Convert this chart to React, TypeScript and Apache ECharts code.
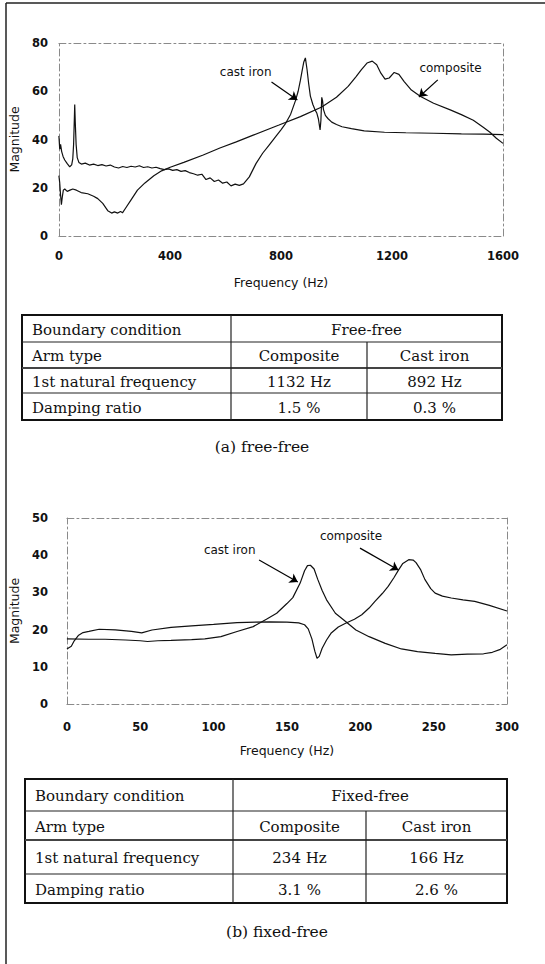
import React, { useEffect, useRef } from "react";
import * as echarts from "echarts";

// ---------- (a) free-free : frequency response ----------
const FREE_CAST_FREQ = [0, 3, 6, 10, 15, 21, 30, 39, 46, 50, 53, 56, 57, 59, 62, 66, 72, 81, 95, 110, 125, 140, 155, 170, 185, 200, 215, 230, 245, 260, 275, 290, 305, 320, 335, 350, 365, 380, 395, 410, 425, 440, 455, 470, 485, 500, 515, 530, 545, 560, 575, 590, 605, 620, 635, 650, 665, 686, 710, 734, 758, 781, 800, 817, 835, 852, 862, 870, 877, 882, 888, 894, 900, 906, 915, 922, 929, 935, 941, 944, 947, 950, 953, 960, 970, 983, 1000, 1020, 1054, 1100, 1173, 1250, 1351, 1450, 1530, 1600];
const FREE_CAST_MAG = [41.5, 36, 38, 35, 33, 31.5, 30, 28.7, 29.5, 32, 38, 50, 54.5, 47, 38, 32.5, 30.5, 29.8, 30.2, 29.4, 29.8, 29.2, 29.6, 29, 29.4, 28.6, 28.2, 28.8, 28.4, 28.9, 28.6, 29.1, 28.4, 28.7, 28.2, 28.5, 27.9, 27.5, 27.8, 27.2, 27.5, 26.8, 27.1, 26.3, 25.8, 25.2, 25.6, 23.4, 24.1, 22.6, 23.2, 21.9, 22.4, 20.8, 21.5, 21.0, 21.6, 24.5, 30, 34.3, 37.8, 41.2, 44, 46.7, 50.5, 56, 60, 64.5, 69, 72, 73.8, 69, 63, 58, 54.5, 52.5, 51, 48.5, 44, 48, 57.5, 56, 52.5, 50, 48.6, 47.2, 46.2, 45.3, 44.5, 43.6, 43, 42.8, 42.6, 42.3, 42.2, 42];

const FREE_COMP_FREQ = [0, 3, 6, 9, 12, 16, 21, 30, 40, 50, 63, 80, 104, 125, 140, 158, 176, 190, 200, 212, 222, 229, 240, 260, 283, 310, 342, 370, 401, 450, 520, 580, 639, 700, 793, 870, 947, 1000, 1042, 1070, 1090, 1110, 1129, 1145, 1160, 1175, 1190, 1208, 1225, 1244, 1270, 1303, 1350, 1410, 1450, 1493, 1530, 1553, 1576, 1600];
const FREE_COMP_MAG = [25, 22, 17, 13, 16, 19, 19.5, 18.5, 19, 19.5, 19, 18, 17.5, 16.5, 15.5, 13.5, 10.5, 9.5, 10, 9.5, 10.2, 9.6, 11.5, 15, 19, 22, 25, 27, 28.5, 30.5, 33.6, 36.5, 39, 41.8, 46, 49.5, 53.5, 57.5, 62, 66, 69, 71.7, 72.5, 71, 67.5, 65, 65.5, 67.8, 67, 64, 60.5, 57.8, 55, 52.3, 50.3, 48, 45, 43, 40.5, 38.4];

// ---------- (b) fixed-free : frequency response ----------
const FIXED_COMP_FREQ = [0, 3, 5, 8, 11, 15, 22, 33, 44, 51, 58, 71, 85, 100, 116, 138, 150, 158, 162, 164.5, 167, 169, 170.5, 172, 174, 177, 180, 185, 190, 196, 201, 206, 210, 215, 219, 223, 226, 229, 233, 236, 238, 241, 244, 248, 251, 256, 262, 270, 278, 288, 300];
const FIXED_COMP_MAG = [14.8, 15.5, 17, 18.5, 19.2, 19.5, 20.1, 19.9, 19.5, 19.1, 19.9, 20.6, 21, 21.4, 21.9, 22.1, 22, 21.8, 21.3, 20.2, 17.5, 14.2, 12.3, 12.8, 15, 17.2, 19, 20.7, 21.7, 22.8, 24, 25.8, 27.6, 29.7, 31.6, 34, 36, 37.8, 38.8, 38.7, 38, 36.2, 33.5, 31, 29.8, 29, 28.5, 28, 27.6, 26.5, 25];

const FIXED_CAST_FREQ = [0, 15, 26, 40, 50, 55, 62, 71, 85, 94, 105, 116, 127, 136, 143, 150, 154, 159, 162, 164, 166, 168.5, 171, 174, 177, 183, 190, 197, 206, 217, 228, 239, 251, 262, 273, 284, 290, 295, 300];
const FIXED_CAST_MAG = [17.5, 17.4, 17.4, 17.2, 17.0, 16.8, 17.0, 17.1, 17.3, 17.5, 18.1, 19.5, 20.8, 22.8, 24.4, 27, 28.6, 32.5, 35.8, 37.2, 37.3, 36.3, 33.5, 30.5, 28, 24.4, 22.2, 19.9, 18.1, 16.3, 14.8, 14.1, 13.6, 13.2, 13.4, 13.5, 13.9, 14.6, 15.9];

// ---------- axes ----------
const FREE_X = { min: 0, max: 1600, interval: 400 };
const FREE_Y = { min: 0, max: 80, interval: 20 };
const FIXED_X = { min: 0, max: 300, interval: 50 };
const FIXED_Y = { min: 0, max: 50, interval: 10 };
const X_NAME = "Frequency (Hz)";
const Y_NAME = "Magnitude";

// ---------- annotations (data coordinates) ----------
const FREE_LABELS = [
  { text: "cast iron", at: [673, 68], from: [766, 63.8], to: [859, 56.4] },
  { text: "composite", at: [1411, 69.6], from: [1365, 64.7], to: [1297, 57.6] },
];
const FIXED_LABELS = [
  { text: "cast iron", at: [111, 41.4], from: [131, 38.7], to: [157.4, 32.8] },
  { text: "composite", at: [193.7, 45.2], from: [199.8, 41.9], to: [226, 36] },
];

// ---------- tables ----------
const TABLE_A = [
  ["Boundary condition", "Free-free"],
  ["Arm type", "Composite", "Cast iron"],
  ["1st natural frequency", "1132 Hz", "892 Hz"],
  ["Damping ratio", "1.5 %", "0.3 %"],
];
const TABLE_B = [
  ["Boundary condition", "Fixed-free"],
  ["Arm type", "Composite", "Cast iron"],
  ["1st natural frequency", "234 Hz", "166 Hz"],
  ["Damping ratio", "3.1 %", "2.6 %"],
];
const CAPTION_A = "(a) free-free";
const CAPTION_B = "(b) fixed-free";

// layout of tables (pixels)
const TABLE_A_BOX = { left: 22, right: 502, rows: [315, 342, 368, 393, 420], cols: [231, 367] };
const TABLE_B_BOX = { left: 25, right: 507, rows: [779, 811, 840, 874, 903], cols: [233, 366] };

const SANS = "DejaVu Sans";
const SERIF = "DejaVu Serif";
const SERIF_SIZE = 15;

const pairs = (f: number[], m: number[]) => f.map((x, i) => [x, m[i]]);

function serifText(x: number, y: number, text: string, align: string, size = SERIF_SIZE) {
  return {
    type: "text",
    x,
    y,
    style: { text, fill: "#111", fontSize: size, fontFamily: SERIF, align, verticalAlign: "middle" },
  };
}

function tableGraphics(rows: string[][], box: any) {
  const els: any[] = [];
  const { left, right, rows: ry, cols } = box;
  const top = ry[0];
  const bottom = ry[ry.length - 1];
  els.push({
    type: "rect",
    shape: { x: left, y: top, width: right - left, height: bottom - top },
    style: { fill: "none", stroke: "#111", lineWidth: 2 },
  });
  for (let i = 1; i < ry.length - 1; i++) {
    els.push({
      type: "line",
      shape: { x1: left, y1: ry[i], x2: right, y2: ry[i] },
      style: { stroke: i === 2 ? "#444" : "#222", lineWidth: i === 2 ? 2 : 1.2 },
    });
  }
  els.push({
    type: "line",
    shape: { x1: cols[0], y1: top, x2: cols[0], y2: bottom },
    style: { stroke: "#222", lineWidth: 1.2 },
  });
  els.push({
    type: "line",
    shape: { x1: cols[1], y1: ry[1], x2: cols[1], y2: bottom },
    style: { stroke: "#222", lineWidth: 1.2 },
  });
  rows.forEach((row, r) => {
    const cy = (ry[r] + ry[r + 1]) / 2 + 1;
    els.push(serifText(left + 10, cy, row[0], "left"));
    if (row.length === 2) {
      els.push(serifText((cols[0] + right) / 2, cy, row[1], "center"));
    } else {
      els.push(serifText((cols[0] + cols[1]) / 2, cy, row[1], "center"));
      els.push(serifText((cols[1] + right) / 2, cy, row[2], "center"));
    }
  });
  return els;
}

const axisLine = { show: true, onZero: false, lineStyle: { color: "#8a8a8a", width: 1, type: [7, 3, 2, 3] } };
const labelStyle = { color: "#111", fontSize: 11.5, fontWeight: "bold", fontFamily: SANS, formatter: (v: number) => String(v) };
const nameStyle = { color: "#111", fontSize: 12.5, fontFamily: SANS };

function mainAxisX(grid: number, range: any, margin: number) {
  return {
    type: "value", gridIndex: grid, ...range,
    axisLine, axisTick: { show: false }, splitLine: { show: false },
    axisLabel: { ...labelStyle, margin, showMaxLabel: true, showMinLabel: true },
    name: X_NAME, nameLocation: "middle", nameGap: 40, nameTextStyle: nameStyle,
  };
}
function topAxisX(grid: number, range: any) {
  return {
    type: "value", gridIndex: grid, position: "top", ...range,
    axisLine, axisTick: { show: false }, splitLine: { show: false }, axisLabel: { show: false },
  };
}
function mainAxisY(grid: number, range: any, margin: number, gap: number) {
  return {
    type: "value", gridIndex: grid, ...range,
    axisLine, axisTick: { show: false }, splitLine: { show: false },
    axisLabel: { ...labelStyle, margin },
    name: Y_NAME, nameLocation: "middle", nameRotate: 90, nameGap: gap, nameTextStyle: nameStyle,
  };
}
function rightAxisY(grid: number, range: any) {
  return {
    type: "value", gridIndex: grid, position: "right", ...range,
    axisLine, axisTick: { show: false }, splitLine: { show: false }, axisLabel: { show: false },
  };
}

function annotate(labels: any[]) {
  return {
    markLine: {
      silent: true,
      animation: false,
      symbol: ["none", "arrow"],
      symbolSize: 8,
      label: { show: false },
      lineStyle: { color: "#000", width: 1.2, type: "solid" },
      data: labels.map((l) => [{ coord: l.from }, { coord: l.to }]),
    },
    markPoint: {
      silent: true,
      animation: false,
      symbol: "circle",
      symbolSize: 1,
      itemStyle: { color: "rgba(0,0,0,0)" },
      label: { show: true, position: "inside", color: "#111", fontSize: 12, fontFamily: SANS, formatter: (p: any) => p.name },
      data: labels.map((l) => ({ name: l.text, coord: l.at })),
    },
  };
}

const lineBase = { type: "line", showSymbol: false, symbol: "none", lineStyle: { color: "#111", width: 1.2 }, itemStyle: { color: "#111" } };

export default function App() {
  const ref = useRef<HTMLDivElement>(null);
  useEffect(() => {
    if (!ref.current) return;
    const chart = echarts.init(ref.current, null, { renderer: "svg" });
    const option: any = {
      animation: false,
      backgroundColor: "#fff",
      grid: [
        { left: 54, top: 43, width: 449, height: 193 },
        { left: 61, top: 518, width: 446, height: 186 },
      ],
      xAxis: [
        mainAxisX(0, FREE_X, 14),
        topAxisX(0, FREE_X),
        mainAxisX(1, FIXED_X, 17),
        topAxisX(1, FIXED_X),
      ],
      yAxis: [
        mainAxisY(0, FREE_Y, 11, 30),
        rightAxisY(0, FREE_Y),
        mainAxisY(1, FIXED_Y, 19, 32),
        rightAxisY(1, FIXED_Y),
      ],
      series: [
        { ...lineBase, name: "cast iron (free-free)", xAxisIndex: 0, yAxisIndex: 0, data: pairs(FREE_CAST_FREQ, FREE_CAST_MAG), ...annotate(FREE_LABELS) },
        { ...lineBase, name: "composite (free-free)", xAxisIndex: 0, yAxisIndex: 0, data: pairs(FREE_COMP_FREQ, FREE_COMP_MAG) },
        { ...lineBase, name: "cast iron (fixed-free)", xAxisIndex: 2, yAxisIndex: 2, data: pairs(FIXED_CAST_FREQ, FIXED_CAST_MAG), ...annotate(FIXED_LABELS) },
        { ...lineBase, name: "composite (fixed-free)", xAxisIndex: 2, yAxisIndex: 2, data: pairs(FIXED_COMP_FREQ, FIXED_COMP_MAG) },
      ],
      graphic: [
        { type: "line", shape: { x1: 6, y1: 3, x2: 545, y2: 3 }, style: { stroke: "#222", lineWidth: 1.5 } },
        { type: "line", shape: { x1: 6, y1: 3, x2: 6, y2: 964 }, style: { stroke: "#222", lineWidth: 1.5 } },
        ...tableGraphics(TABLE_A, TABLE_A_BOX),
        ...tableGraphics(TABLE_B, TABLE_B_BOX),
        serifText(262, 447, CAPTION_A, "center", 15.5),
        serifText(277, 932, CAPTION_B, "center", 15.5),
      ],
    };
    chart.setOption(option);
    return () => chart.dispose();
  }, []);
  return <div ref={ref} style={{ position: "absolute", left: 0, top: 0, width: 545, height: 964, background: "#fff" }} />;
}
